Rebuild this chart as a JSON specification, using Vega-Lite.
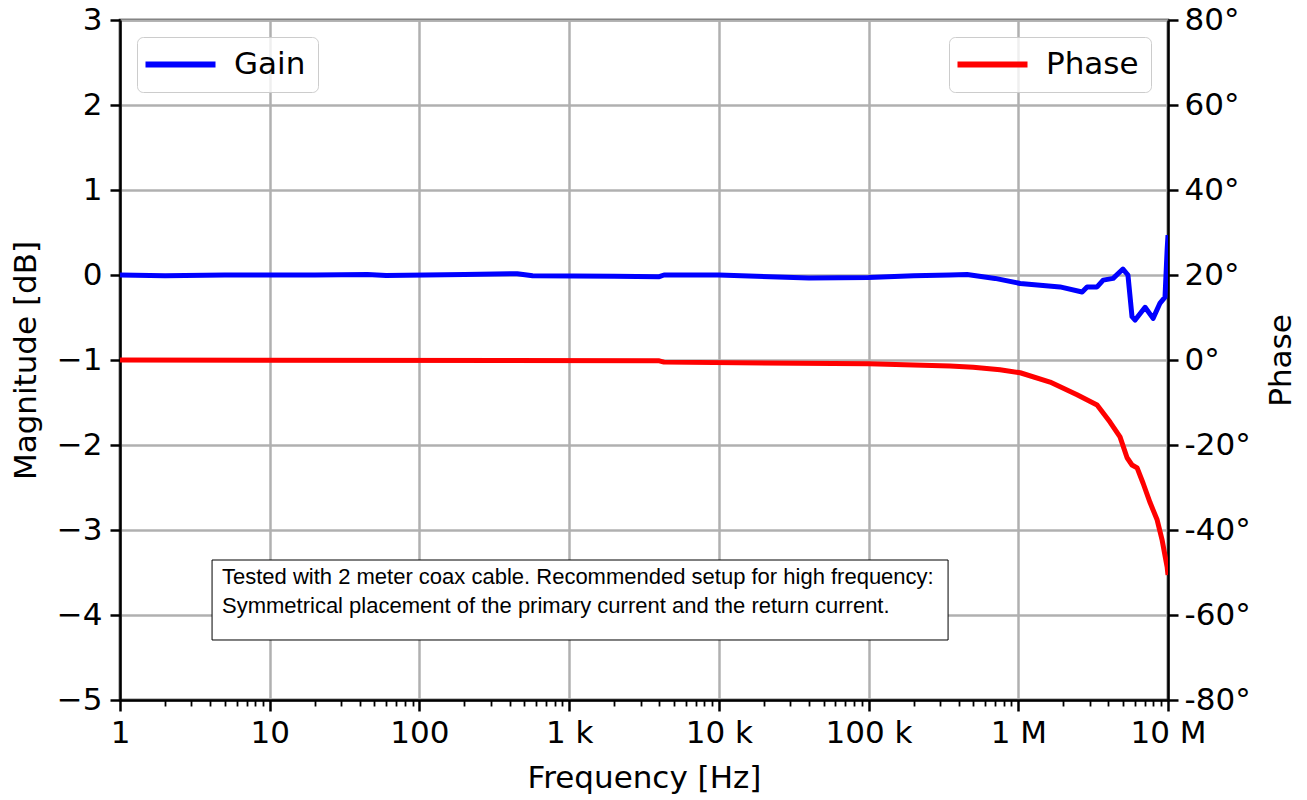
{
  "$schema": "https://vega.github.io/schema/vega-lite/v6.json",
  "width": 1048,
  "height": 680,
  "autosize": {"type": "none"},
  "padding": {"left": 120, "top": 20, "right": 139, "bottom": 100},
  "background": "white",
  "config": {
    "view": {"stroke": "black", "strokeWidth": 2.5},
    "font": "DejaVu Sans",
    "axis": {
      "labelFont": "DejaVu Sans",
      "titleFont": "DejaVu Sans",
      "labelFontSize": 31,
      "titleFontSize": 31,
      "titleFontWeight": "normal",
      "labelColor": "black",
      "titleColor": "black",
      "domainColor": "black",
      "domainWidth": 2.5,
      "tickColor": "black",
      "tickWidth": 2.5,
      "tickSize": 10,
      "gridColor": "#b0b0b0",
      "gridWidth": 2.5,
      "gridOpacity": 1,
      "labelFlush": false,
      "labelOverlap": false,
      "labelBound": false
    },
    "legend": {
      "orient": "top-left",
      "offset": 17,
      "padding": 12,
      "fillColor": "rgba(255,255,255,0.8)",
      "strokeColor": "#cccccc",
      "cornerRadius": 6,
      "symbolType": "M-4,0H4",
      "symbolSize": 306.25,
      "symbolStrokeWidth": 6,
      "symbolOffset": 16,
      "labelFont": "DejaVu Sans",
      "labelFontSize": 31,
      "labelColor": "black",
      "labelOffset": 38,
      "title": null
    }
  },
  "datasets": {
    "gain": [
      {"freq": 1, "gain": 0},
      {"freq": 2, "gain": -0.01},
      {"freq": 5, "gain": 0},
      {"freq": 20, "gain": 0},
      {"freq": 45, "gain": 0.005},
      {"freq": 60, "gain": -0.005},
      {"freq": 200, "gain": 0.005},
      {"freq": 450, "gain": 0.015},
      {"freq": 570, "gain": -0.01},
      {"freq": 2000, "gain": -0.015},
      {"freq": 4000, "gain": -0.02},
      {"freq": 4300, "gain": 0},
      {"freq": 10000, "gain": 0},
      {"freq": 40000, "gain": -0.035},
      {"freq": 100000, "gain": -0.03},
      {"freq": 200000, "gain": -0.01},
      {"freq": 350000, "gain": 0},
      {"freq": 455000, "gain": 0.005},
      {"freq": 700000, "gain": -0.04},
      {"freq": 1030000, "gain": -0.1},
      {"freq": 1900000, "gain": -0.14},
      {"freq": 2670000, "gain": -0.2},
      {"freq": 2880000, "gain": -0.14},
      {"freq": 3360000, "gain": -0.14},
      {"freq": 3690000, "gain": -0.06},
      {"freq": 4300000, "gain": -0.04},
      {"freq": 5000000, "gain": 0.07},
      {"freq": 5400000, "gain": 0},
      {"freq": 5750000, "gain": -0.49},
      {"freq": 6030000, "gain": -0.53},
      {"freq": 7030000, "gain": -0.38},
      {"freq": 7950000, "gain": -0.51},
      {"freq": 8850000, "gain": -0.33},
      {"freq": 9550000, "gain": -0.26},
      {"freq": 9870000, "gain": 0.3},
      {"freq": 10000000, "gain": 0.47}
    ],
    "phase": [
      {"freq": 1, "phase": 0},
      {"freq": 4000, "phase": -0.2},
      {"freq": 4300, "phase": -0.5},
      {"freq": 100000, "phase": -0.9},
      {"freq": 350000, "phase": -1.4},
      {"freq": 500000, "phase": -1.7},
      {"freq": 755000, "phase": -2.3},
      {"freq": 1030000, "phase": -3},
      {"freq": 1630000, "phase": -5.2},
      {"freq": 2470000, "phase": -8.2},
      {"freq": 3360000, "phase": -10.6},
      {"freq": 4100000, "phase": -14.6},
      {"freq": 4780000, "phase": -18.1},
      {"freq": 5330000, "phase": -23},
      {"freq": 5750000, "phase": -24.7},
      {"freq": 6220000, "phase": -25.4},
      {"freq": 6820000, "phase": -29},
      {"freq": 7600000, "phase": -33.6},
      {"freq": 8460000, "phase": -37.6},
      {"freq": 9140000, "phase": -42.4},
      {"freq": 9870000, "phase": -48.7},
      {"freq": 10000000, "phase": -50.6}
    ],
    "note": [
      {"f1": 4.12, "f2": 339600, "y1": -3.353, "y2": -4.294, "ft": 4.8, "yt": -3.44, "label": "Tested with 2 meter coax cable. Recommended setup for high frequency:\nSymmetrical placement of the primary current and the return current."}
    ]
  },
  "layer": [
    {
      "layer": [
        {
          "data": {"name": "gain"},
          "mark": {"type": "line", "strokeWidth": 5, "strokeJoin": "round", "clip": true},
          "encoding": {
            "x": {
              "field": "freq",
              "type": "quantitative",
              "title": "Frequency [Hz]",
              "scale": {"type": "log", "domain": [1, 10000000], "nice": false},
              "axis": {
                "values": [1,2,3,4,5,6,7,8,9,10,20,30,40,50,60,70,80,90,100,200,300,400,500,600,700,800,900,1000,2000,3000,4000,5000,6000,7000,8000,9000,10000,20000,30000,40000,50000,60000,70000,80000,90000,100000,200000,300000,400000,500000,600000,700000,800000,900000,1000000,2000000,3000000,4000000,5000000,6000000,7000000,8000000,9000000,10000000],
                "labelExpr": "datum.value == 1 ? '1' : datum.value == 10 ? '10' : datum.value == 100 ? '100' : datum.value == 1000 ? '1 k' : datum.value == 10000 ? '10 k' : datum.value == 100000 ? '100 k' : datum.value == 1000000 ? '1 M' : datum.value == 10000000 ? '10 M' : ''",
                "grid": true,
                "gridOpacity": {"condition": {"test": "indexof([1,10,100,1000,10000,100000,1000000,10000000], datum.value) >= 0", "value": 1}, "value": 0},
                "tickSize": {"condition": {"test": "indexof([1,10,100,1000,10000,100000,1000000,10000000], datum.value) >= 0", "value": 11}, "value": 6},
                "tickWidth": {"condition": {"test": "indexof([1,10,100,1000,10000,100000,1000000,10000000], datum.value) >= 0", "value": 2.5}, "value": 1.8},
                "labelPadding": 7,
                "titlePadding": 15
              }
            },
            "y": {
              "field": "gain",
              "type": "quantitative",
              "title": "Magnitude [dB]",
              "scale": {"domain": [-5, 3], "nice": false, "zero": false},
              "axis": {
                "orient": "left",
                "values": [-5,-4,-3,-2,-1,0,1,2,3],
                "format": "d",
                "grid": true,
                "labelPadding": 8,
                "titlePadding": 14
              }
            },
            "color": {
              "datum": "Gain",
              "scale": {"domain": ["Gain"], "range": ["#0000ff"]},
              "legend": {"orient": "top-left"}
            }
          }
        },
        {
          "data": {"name": "note"},
          "mark": {"type": "rect", "fill": "white", "stroke": "black", "strokeWidth": 1},
          "encoding": {
            "x": {"field": "f1", "type": "quantitative", "title": "Frequency [Hz]", "scale": {"type": "log", "domain": [1, 10000000], "nice": false}},
            "x2": {"field": "f2"},
            "y": {"field": "y1", "type": "quantitative", "title": "Magnitude [dB]", "scale": {"domain": [-5, 3], "nice": false, "zero": false}},
            "y2": {"field": "y2"}
          }
        },
        {
          "data": {"name": "note"},
          "mark": {"type": "text", "font": "Liberation Sans", "fontSize": 22, "lineHeight": 29, "lineBreak": "\n", "align": "left", "baseline": "top", "color": "black"},
          "encoding": {
            "x": {"field": "ft", "type": "quantitative", "title": "Frequency [Hz]", "scale": {"type": "log", "domain": [1, 10000000], "nice": false}},
            "y": {"field": "yt", "type": "quantitative", "title": "Magnitude [dB]", "scale": {"domain": [-5, 3], "nice": false, "zero": false}},
            "text": {"field": "label", "type": "nominal"}
          }
        }
      ]
    },
    {
      "data": {"name": "phase"},
      "mark": {"type": "line", "strokeWidth": 5, "strokeJoin": "round", "clip": true},
      "encoding": {
        "x": {"field": "freq", "type": "quantitative", "title": "Frequency [Hz]", "scale": {"type": "log", "domain": [1, 10000000], "nice": false}},
        "y": {
          "field": "phase",
          "type": "quantitative",
          "title": "Phase",
          "scale": {"domain": [-80, 80], "nice": false, "zero": false},
          "axis": {
            "orient": "right",
            "values": [-80,-60,-40,-20,0,20,40,60,80],
            "labelExpr": "datum.value + '°'",
            "grid": false,
            "labelPadding": 6,
            "titlePadding": 47,
            "titleAngle": 270
          }
        },
        "color": {
          "datum": "Phase",
          "scale": {"domain": ["Phase"], "range": ["#ff0000"]},
          "legend": {"orient": "top-right"}
        }
      }
    }
  ],
  "resolve": {"scale": {"y": "independent", "color": "independent"}}
}
